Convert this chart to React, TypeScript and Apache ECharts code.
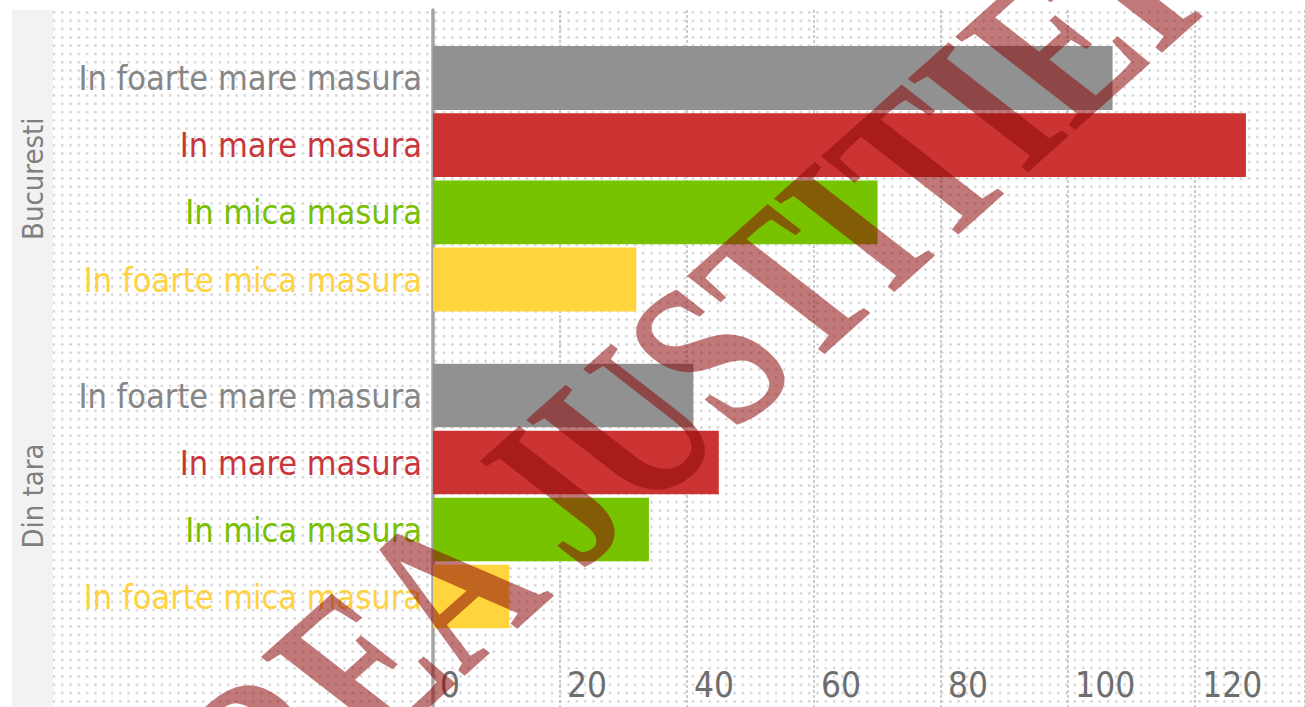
import React, { useEffect, useRef } from "react";
import * as echarts from "echarts";

const groups = ["Bucuresti", "Din tara"];
const categories = [
  "In foarte mare masura",
  "In mare masura",
  "In mica masura",
  "In foarte mica masura",
];
const bucurestiValues = [107, 128, 70, 32];
const dinTaraValues = [41, 45, 34, 12];
const xTicks = [0, 20, 40, 60, 80, 100, 120];
const barColors = ["#919191", "#cc3434", "#77c300", "#ffd43c"];
const labelColors = ["#868686", "#c9363b", "#78c000", "#ffd240"];
const watermark = "PUTEREA JUSTITIEI";

const FONT = '"Liberation Sans Narrow", "DejaVu Sans Condensed", "Noto Sans", sans-serif';
const XMAX = 137.3;

const dotSvg =
  "data:image/svg+xml;charset=utf-8," +
  encodeURIComponent(
    "<svg xmlns='http://www.w3.org/2000/svg' width='8' height='8' viewBox='0 0 8 8'><rect x='3' y='3' width='2' height='2' fill='#c6c6c6'/></svg>"
  );

export default function App() {
  const ref = useRef<HTMLDivElement>(null);
  useEffect(() => {
    if (!ref.current) return;
    const chart = echarts.init(ref.current, null, { renderer: "svg" });
    const rich: any = {};
    labelColors.forEach((c, i) => {
      rich["c" + i] = { color: c, fontSize: 34, fontFamily: FONT };
    });
    const catAxis = (grid: number, name: string) => ({
      gridIndex: grid,
      type: "category",
      data: categories,
      inverse: true,
      axisLine: { show: false },
      axisTick: { show: false },
      splitLine: { show: false },
      axisLabel: {
        margin: 11,
        formatter: (v: string, i: number) => `{c${i}|${v}}`,
        rich,
      },
      name,
      nameLocation: "middle",
      nameRotate: 90,
      nameGap: 386,
      nameTextStyle: { color: "#7f7f7f", fontSize: 29, fontFamily: FONT },
    });
    const hiddenX = (grid: number) => ({
      gridIndex: grid,
      type: "value",
      min: 0,
      max: XMAX,
      show: false,
    });
    const option: any = {
      animation: false,
      backgroundColor: "#ffffff",
      grid: [
        { left: 433, right: 0, top: 10, bottom: 0, outerBoundsMode: "none", containLabel: false },
        { left: 433, right: 0, top: 44.4, height: 268.7, outerBoundsMode: "none", containLabel: false },
        { left: 433, right: 0, top: 362, height: 268, outerBoundsMode: "none", containLabel: false },
      ],
      xAxis: [
        {
          gridIndex: 0,
          type: "value",
          min: 0,
          max: XMAX,
          interval: 20,
          axisLine: { show: false },
          axisTick: { show: false },
          splitLine: {
            show: true,
            lineStyle: { color: "#bcbcbc", type: [3, 2], width: 1.5 },
          },
          axisLabel: {
            inside: true,
            margin: 5,
            align: "left",
            padding: [0, 0, 0, 7],
            color: "#6e6e6e",
            fontSize: 35,
            fontFamily: FONT,
            showMaxLabel: false,
            formatter: (v: number) => (xTicks.includes(v) ? String(v) : ""),
          },
        },
        hiddenX(1),
        hiddenX(2),
      ],
      yAxis: [
        {
          gridIndex: 0,
          type: "category",
          data: [""],
          axisLine: { show: true, lineStyle: { color: "#a4a4a4", width: 3.5 } },
          axisTick: { show: false },
          axisLabel: { show: false },
        },
        catAxis(1, groups[0]),
        catAxis(2, groups[1]),
      ],
      series: [
        {
          type: "bar",
          xAxisIndex: 1,
          yAxisIndex: 1,
          barCategoryGap: "5%",
          data: bucurestiValues.map((v, i) => ({ value: v, itemStyle: { color: barColors[i] } })),
        },
        {
          type: "bar",
          xAxisIndex: 2,
          yAxisIndex: 2,
          barCategoryGap: "5%",
          data: dinTaraValues.map((v, i) => ({ value: v, itemStyle: { color: barColors[i] } })),
        },
      ],
      graphic: [
        {
          type: "rect",
          z: -10,
          silent: true,
          shape: { x: 12, y: 10, width: 41, height: 697 },
          style: { fill: "#f2f2f2" },
        },
        {
          type: "rect",
          z: -10,
          silent: true,
          shape: { x: 53, y: 10, width: 1252, height: 697 },
          style: {
            fill: { image: dotSvg, repeat: "repeat", imageWidth: 8.3, imageHeight: 8.3 },
          },
        },
        {
          type: "group",
          z: 100,
          silent: true,
          x: 0,
          y: 0,
          scaleX: 1.2,
          children: [
            {
              type: "text",
              z: 100,
              x: 430,
              y: 526,
              rotation: (47 * Math.PI) / 180,
              scaleY: 1.35,
              style: {
                text: watermark,
                fontSize: 155,
                fontWeight: "bold",
                fontFamily: '"Liberation Serif", "DejaVu Serif", serif',
                fill: "rgba(140,10,10,0.55)",
                align: "center",
                verticalAlign: "middle",
                textAlign: "center",
                textVerticalAlign: "middle",
              },
            },
          ],
        },
      ],
    };
    chart.setOption(option);
    return () => chart.dispose();
  }, []);
  return <div ref={ref} style={{ width: 1305, height: 707, position: "absolute", left: 0, top: 0 }} />;
}
